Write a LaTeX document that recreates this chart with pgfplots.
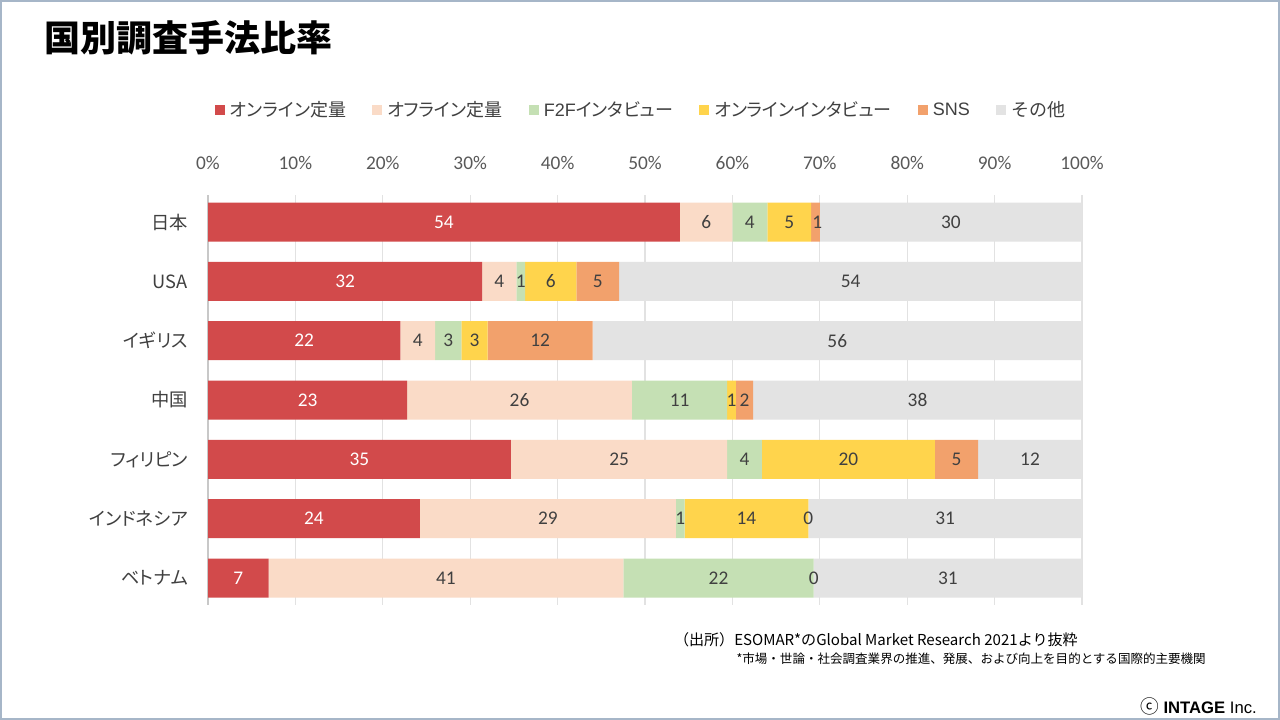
\documentclass[border=0pt]{standalone}
\usepackage{fontspec}
\usepackage{pgfplots}
\pgfplotsset{compat=1.18}
\setmainfont{Noto Sans CJK JP}[RawFeature={+palt}]
\newfontfamily\jpfull{Noto Sans CJK JP}
\newfontfamily\numfont{Carlito}
\newfontfamily\libfont{Liberation Sans}
\definecolor{cRed}{HTML}{D24A4B}
\definecolor{cPeach}{HTML}{FADBC7}
\definecolor{cGreen}{HTML}{C5E0B4}
\definecolor{cYellow}{HTML}{FFD44C}
\definecolor{cOrange}{HTML}{F2A16C}
\definecolor{cGray}{HTML}{E3E3E3}
\definecolor{gridc}{HTML}{E2E2E2}
\definecolor{axisc}{HTML}{C8C8C8}
\definecolor{framec}{HTML}{A6B6C8}
\definecolor{dtext}{HTML}{404040}
\definecolor{ttext}{HTML}{595959}
\pgfplotsset{
  geom/.style={
    at={(axorigin)}, anchor=south west,
    scale only axis, width=655.5pt, height=307pt,
    xmin=0, xmax=100, ymin=-0.45, ymax=6.45, y dir=reverse,
  },
}
\begin{document}
\begin{tikzpicture}[x=0.75pt,y=-0.75pt]
\useasboundingbox (0,0) rectangle (1280,720);
\fill[white] (0,0) rectangle (1280,720);
\draw[framec, line width=1.2pt] (0.8,0.8) rectangle (1279.2,719.2);
\coordinate (axorigin) at (208,604.7);
\node[anchor=west, font=\bfseries\fontsize{27}{31}\selectfont, inner sep=0pt] at (44,38) {国別調査手法比率};

\begin{axis}[geom,
  xbar stacked, bar width=29.25pt,
  ytick={0,...,6},
  yticklabels={日本,USA,イギリス,中国,フィリピン,インドネシア,ベトナム},
  xtick={0,10,...,100},
  xticklabels={0\%,10\%,20\%,30\%,40\%,50\%,60\%,70\%,80\%,90\%,100\%},
  xticklabel pos=right,
  x tick label style={font=\numfont\fontsize{14.5}{16}\selectfont, text=ttext, inner sep=0pt, anchor=south, yshift=19pt},
  y tick label style={font=\fontsize{13.7}{16}\selectfont, text=dtext, inner sep=0pt, anchor=east, xshift=-15pt},
  major tick length=0pt, tick style={draw=none},
  axis line style={draw=none},
  xmajorgrids=true, major grid style={gridc, line width=0.9pt},
  extra x ticks={0}, extra x tick labels={},
  extra x tick style={grid=major, major grid style={axisc, line width=0.9pt}},
  legend style={draw=none, fill=none, at={(0.496,1.2084)}, anchor=center,
    legend columns=6, font=\fontsize{13.5}{15}\selectfont, text=dtext,
    /tikz/every odd column/.append style={column sep=1.8pt},
    /tikz/every even column/.append style={column sep=17.8pt}},
  legend cell align=left,
  legend image code/.code={\fill[#1] (0pt,-3.75pt) rectangle (7.5pt,3.75pt);},
]
\addplot[fill=cRed, draw=none] coordinates {(54,0) (31.37,1) (22,2) (22.77,3) (34.65,4) (24.24,5) (6.93,6)};
\addplot[fill=cPeach, draw=none] coordinates {(6,0) (3.92,1) (4,2) (25.74,3) (24.75,4) (29.29,5) (40.59,6)};
\addplot[fill=cGreen, draw=none] coordinates {(4,0) (0.98,1) (3,2) (10.89,3) (3.96,4) (1.01,5) (21.78,6)};
\addplot[fill=cYellow, draw=none] coordinates {(5,0) (5.88,1) (3,2) (0.99,3) (19.80,4) (14.14,5) (0,6)};
\addplot[fill=cOrange, draw=none] coordinates {(1,0) (4.90,1) (12,2) (1.98,3) (4.95,4) (0,5) (0,6)};
\addplot[fill=cGray, draw=none] coordinates {(30,0) (52.94,1) (56,2) (37.62,3) (11.88,4) (31.31,5) (30.69,6)};
\legend{オンライン定量,オフライン定量,{{\libfont F2F}インタビュー},オンラインインタビュー,{\libfont SNS},{\jpfull その他}}
\end{axis}

\begin{axis}[geom, hide axis, clip=false,
  nodes near coords, point meta=explicit symbolic,
  every node near coord/.append style={anchor=center, font=\numfont\fontsize{14.5}{16}\selectfont, inner sep=0pt, text=dtext},
]
\addplot[draw=none, mark=none, every node near coord/.append style={text=white}] coordinates {(27,0)[54] (15.69,1)[32] (11,2)[22] (11.39,3)[23] (17.33,4)[35] (12.12,5)[24] (3.47,6)[7]};
\addplot[draw=none, mark=none] coordinates {(57,0)[6] (33.33,1)[4] (24,2)[4] (35.64,3)[26] (47.03,4)[25] (38.89,5)[29] (27.23,6)[41]};
\addplot[draw=none, mark=none] coordinates {(62,0)[4] (35.78,1)[1] (27.5,2)[3] (53.96,3)[11] (61.38,4)[4] (54.04,5)[1] (58.41,6)[22]};
\addplot[draw=none, mark=none] coordinates {(66.5,0)[5] (39.21,1)[6] (30.5,2)[3] (59.90,3)[1] (73.26,4)[20] (61.61,5)[14]};
\addplot[draw=none, mark=none] coordinates {(69.7,0)[1] (44.60,1)[5] (38,2)[12] (61.38,3)[2] (85.64,4)[5] (68.68,5)[0] (69.30,6)[0]};
\addplot[draw=none, mark=none] coordinates {(85,0)[30] (73.52,1)[54] (72,2)[56] (81.18,3)[38] (94.05,4)[12] (84.34,5)[31] (84.65,6)[31]};
\end{axis}

\node[anchor=east, font=\jpfull\fontsize{11.3}{13}\selectfont, inner sep=0pt, text=black] at (1078,640) {（出所）ESOMAR*のGlobal Market Research 2021より抜粋};
\node[anchor=east, font=\jpfull\fontsize{9.4}{11}\selectfont, inner sep=0pt, text=black] at (1206,659) {*市場・世論・社会調査業界の推進、発展、および向上を目的とする国際的主要機関};
\node[anchor=east, font=\libfont\fontsize{12.5}{14}\selectfont, inner sep=0pt, text=black] at (1257,706) {{\jpfull\fontsize{14}{14}\selectfont ⓒ} \textbf{INTAGE} Inc.};
\end{tikzpicture}
\end{document}
